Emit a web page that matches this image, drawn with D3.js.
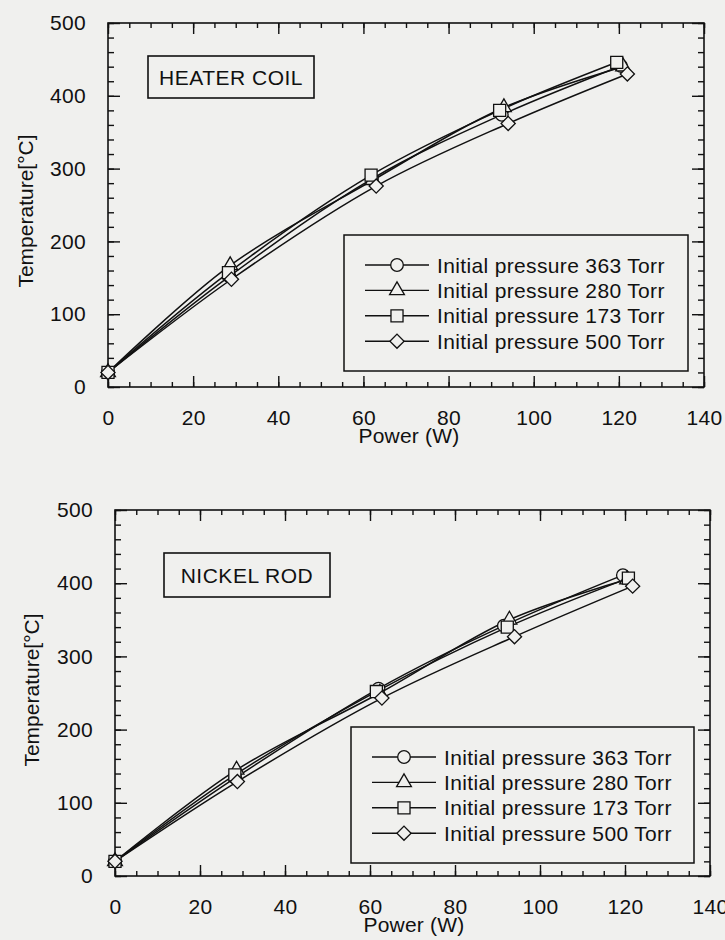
<!DOCTYPE html>
<html>
<head>
<meta charset="utf-8">
<script src="https://cdn.jsdelivr.net/npm/d3@7"></script>
<style>
  body { margin: 0; background: #f0f0ee; }
  svg { display: block; }
  text { font-family: "Liberation Sans", Arial, sans-serif; fill: #111; }
</style>
</head>
<body>
<svg id="chart" width="725" height="940"></svg>
<script>
// tick labels
var xTicks = [0, 20, 40, 60, 80, 100, 120, 140];
var yTicks = [0, 100, 200, 300, 400, 500];

var seriesNames = ["Initial pressure 363 Torr", "Initial pressure 280 Torr",
    "Initial pressure 173 Torr", "Initial pressure 500 Torr"];
var markerTypes = ["circle", "triangle", "square", "diamond"];

// HEATER COIL  (power W, temperature C)
var coilP363 = [0, 28.5, 62.0, 92.5, 120.5];
var coilT363 = [20, 152, 286, 374, 441];
var coilP280 = [0, 28.7, 62.2, 93.0, 121.0];
var coilT280 = [20, 167, 284, 384, 440];
var coilP173 = [0, 28.3, 61.8, 92.0, 119.5];
var coilT173 = [20, 157, 291, 380, 446];
var coilP500 = [0, 29.0, 63.0, 94.0, 122.0];
var coilT500 = [20, 148, 276, 362, 430];

// NICKEL ROD
var rodP363 = [0, 28.3, 62.0, 91.5, 119.5];
var rodT363 = [20, 134, 256, 342, 411];
var rodP280 = [0, 28.6, 62.3, 92.8, 120.5];
var rodT280 = [20, 145, 250, 350, 405];
var rodP173 = [0, 28.2, 61.5, 92.3, 120.8];
var rodT173 = [20, 138, 252, 340, 407];
var rodP500 = [0, 28.8, 62.8, 94.0, 121.8];
var rodT500 = [20, 129, 243, 327, 396];

var svg = d3.select('#chart');
var bg = '#f0f0ee';
var font = '"Liberation Sans", Arial, sans-serif';

function zip(xs, ys) {
    return xs.map(function (x, i) { return {x: x, y: ys[i]}; });
}

function markerPath(type) {
    if (type === 'circle') return d3.symbol().type(d3.symbolCircle).size(125)();
    if (type === 'triangle') return d3.symbol().type(d3.symbolTriangle).size(95)();
    if (type === 'square') return d3.symbol().type(d3.symbolSquare).size(145)();
    return d3.symbol().type(d3.symbolSquare).size(100)(); // rotated below -> diamond
}

function drawMarker(g, type, cx, cy) {
    var rot = type === 'diamond' ? ' rotate(45)' : '';
    g.append('path')
        .attr('d', markerPath(type))
        .attr('transform', 'translate(' + cx + ',' + cy + ')' + rot)
        .attr('fill', bg)
        .attr('stroke', '#111')
        .attr('stroke-width', 1.3);
}

function drawPanel(p) {
    var x = d3.scaleLinear().domain([0, 140]).range([p.left, p.right]);
    var y = d3.scaleLinear().domain([0, 500]).range([p.bottom, p.top]);
    var g = svg.append('g');

    // frame
    g.append('rect')
        .attr('x', p.left).attr('y', p.top)
        .attr('width', p.right - p.left).attr('height', p.bottom - p.top)
        .attr('fill', 'none').attr('stroke', '#111').attr('stroke-width', 1.6);

    var xMinor = d3.range(0, 141, 5);
    var yMinor = d3.range(0, 501, 20);

    function styleAxis(sel) {
        sel.select('.domain').remove();
        sel.selectAll('line').attr('stroke', '#111').attr('stroke-width', 1.4);
        sel.selectAll('text').attr('font-size', 21).attr('letter-spacing', 0.3)
            .attr('font-family', font).attr('fill', '#111');
    }

    // bottom
    g.append('g').attr('transform', 'translate(0,' + p.bottom + ')')
        .call(d3.axisBottom(x).tickValues(xMinor).tickSize(-5).tickFormat(''))
        .call(styleAxis);
    g.append('g').attr('transform', 'translate(0,' + p.bottom + ')')
        .call(d3.axisBottom(x).tickValues(xTicks).tickSize(-11).tickPadding(23))
        .call(styleAxis);
    // top
    g.append('g').attr('transform', 'translate(0,' + p.top + ')')
        .call(d3.axisTop(x).tickValues(xMinor).tickSize(-5).tickFormat(''))
        .call(styleAxis);
    g.append('g').attr('transform', 'translate(0,' + p.top + ')')
        .call(d3.axisTop(x).tickValues(xTicks).tickSize(-11).tickFormat(''))
        .call(styleAxis);
    // left
    g.append('g').attr('transform', 'translate(' + p.left + ',0)')
        .call(d3.axisLeft(y).tickValues(yMinor).tickSize(-6).tickFormat(''))
        .call(styleAxis);
    g.append('g').attr('transform', 'translate(' + p.left + ',0)')
        .call(d3.axisLeft(y).tickValues(yTicks).tickSize(-12).tickPadding(22))
        .call(styleAxis);
    // right
    g.append('g').attr('transform', 'translate(' + p.right + ',0)')
        .call(d3.axisRight(y).tickValues(yMinor).tickSize(-6).tickFormat(''))
        .call(styleAxis);
    g.append('g').attr('transform', 'translate(' + p.right + ',0)')
        .call(d3.axisRight(y).tickValues(yTicks).tickSize(-12).tickFormat(''))
        .call(styleAxis);

    // axis titles
    g.append('text')
        .attr('x', p.xTitleX).attr('y', p.bottom + 56)
        .attr('text-anchor', 'middle').attr('font-size', 21).attr('letter-spacing', 0.2)
        .text('Power (W)');
    g.append('text')
        .attr('transform', 'translate(' + p.yTitleX + ',' + p.yTitleY + ') rotate(-90)')
        .attr('text-anchor', 'middle')
        .attr('font-size', 21)
        .text('Temperature[\u00b0C]');

    // curves
    var line = d3.line()
        .x(function (d) { return x(d.x); })
        .y(function (d) { return y(d.y); })
        .curve(d3.curveCatmullRom.alpha(0.5));

    p.series.forEach(function (s) {
        g.append('path')
            .datum(zip(s[0], s[1]))
            .attr('d', line)
            .attr('fill', 'none').attr('stroke', '#111').attr('stroke-width', 1.5);
    });
    p.series.forEach(function (s, i) {
        zip(s[0], s[1]).forEach(function (d) {
            drawMarker(g, markerTypes[i], x(d.x), y(d.y));
        });
    });

    // name box
    g.append('rect')
        .attr('x', p.box[0]).attr('y', p.box[1]).attr('width', p.box[2]).attr('height', p.box[3])
        .attr('fill', 'none').attr('stroke', '#111').attr('stroke-width', 1.6);
    g.append('text')
        .attr('x', p.box[0] + p.box[2] / 2).attr('y', p.box[1] + p.box[3] / 2 + 7.5)
        .attr('text-anchor', 'middle').attr('font-size', 21).attr('letter-spacing', 0.5)
        .text(p.name);

    // legend
    var L = p.legend;
    g.append('rect')
        .attr('x', L.x).attr('y', L.y).attr('width', L.w).attr('height', L.h)
        .attr('fill', bg).attr('stroke', '#111').attr('stroke-width', 1.5);
    seriesNames.forEach(function (name, i) {
        var ry = L.y + 30 + i * 25.4;
        g.append('line')
            .attr('x1', L.x + 21).attr('x2', L.x + 85)
            .attr('y1', ry).attr('y2', ry)
            .attr('stroke', '#111').attr('stroke-width', 1.4);
        drawMarker(g, markerTypes[i], L.x + 53, ry);
        g.append('text')
            .attr('x', L.x + 93).attr('y', ry + 7.5)
            .attr('font-size', 21).attr('letter-spacing', 0.35)
            .text(name);
    });
}

drawPanel({
    left: 108, right: 704, top: 23, bottom: 387,
    yTitleX: 33, yTitleY: 211, xTitleX: 409,
    name: 'HEATER COIL',
    box: [148, 56, 166, 42],
    legend: {x: 344, y: 235, w: 344, h: 136},
    series: [[coilP363, coilT363], [coilP280, coilT280], [coilP173, coilT173], [coilP500, coilT500]]
});

drawPanel({
    left: 115, right: 710, top: 510, bottom: 876,
    yTitleX: 39, yTitleY: 690, xTitleX: 414,
    name: 'NICKEL ROD',
    box: [164, 553, 166, 44],
    legend: {x: 351, y: 727, w: 343, h: 136},
    series: [[rodP363, rodT363], [rodP280, rodT280], [rodP173, rodT173], [rodP500, rodT500]]
});
</script>
</body>
</html>
